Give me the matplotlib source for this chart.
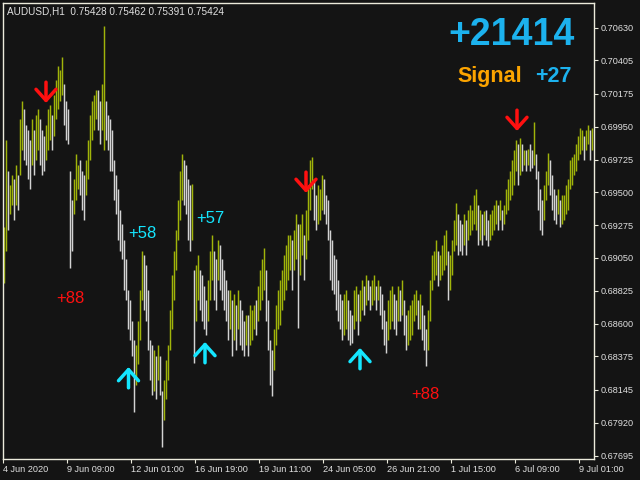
import matplotlib
matplotlib.use("Agg")
import matplotlib.pyplot as plt
import numpy as np

plt.rcParams['font.family'] = ['Liberation Sans', 'DejaVu Sans']

# ---------------- data ----------------
highs = [0.6926, 0.6986, 0.6965, 0.6955, 0.6962, 0.6959, 0.6969, 0.6962, 0.7000, 0.7013,
         0.7007, 0.6996, 0.6993, 0.6986, 0.7000, 0.6993, 0.7003, 0.7007, 0.7000, 0.6993,
         0.6989, 0.6996, 0.7007, 0.7010, 0.7003, 0.7017, 0.7027, 0.7037, 0.7034, 0.7043,
         0.7024, 0.7013, 0.7007, 0.6965, 0.6945, 0.6959, 0.6976, 0.6969, 0.6972, 0.6965,
         0.6962, 0.6972, 0.6986, 0.7003, 0.7013, 0.7017, 0.7020, 0.7020, 0.7013, 0.7024,
         0.7064, 0.7013, 0.7003, 0.7000, 0.6993, 0.6972, 0.6962, 0.6952, 0.6938, 0.6928,
         0.6917, 0.6904, 0.6883, 0.6876, 0.6862, 0.6849, 0.6845, 0.6862, 0.6883, 0.6910,
         0.6907, 0.6900, 0.6883, 0.6849, 0.6845, 0.6842, 0.6838, 0.6845, 0.6838, 0.6814,
         0.6821, 0.6835, 0.6845, 0.6869, 0.6893, 0.6910, 0.6924, 0.6945, 0.6965, 0.6976,
         0.6972, 0.6969, 0.6959, 0.6955, 0.6956, 0.6897, 0.6900, 0.6907, 0.6897, 0.6893,
         0.6886, 0.6876, 0.6890, 0.6910, 0.6921, 0.6910, 0.6904, 0.6917, 0.6914, 0.6904,
         0.6897, 0.6890, 0.6883, 0.6883, 0.6876, 0.6880, 0.6873, 0.6883, 0.6876, 0.6869,
         0.6862, 0.6866, 0.6866, 0.6873, 0.6869, 0.6873, 0.6876, 0.6886, 0.6897, 0.6904,
         0.6912, 0.6897, 0.6876, 0.6849, 0.6842, 0.6856, 0.6873, 0.6883, 0.6890, 0.6897,
         0.6907, 0.6914, 0.6921, 0.6921, 0.6917, 0.6924, 0.6935, 0.6928, 0.6928, 0.6935,
         0.6921, 0.6938, 0.6955, 0.6972, 0.6974, 0.6959, 0.6948, 0.6955, 0.6952, 0.6962,
         0.6959, 0.6948, 0.6945, 0.6924, 0.6917, 0.6907, 0.6904, 0.6890, 0.6880, 0.6876,
         0.6880, 0.6883, 0.6876, 0.6869, 0.6866, 0.6883, 0.6886, 0.6880, 0.6883, 0.6890,
         0.6886, 0.6893, 0.6890, 0.6886, 0.6890, 0.6893, 0.6886, 0.6890, 0.6886, 0.6880,
         0.6869, 0.6862, 0.6876, 0.6883, 0.6886, 0.6880, 0.6876, 0.6886, 0.6883, 0.6890,
         0.6876, 0.6866, 0.6869, 0.6873, 0.6876, 0.6880, 0.6883, 0.6876, 0.6880, 0.6873,
         0.6866, 0.6856, 0.6869, 0.6890, 0.6907, 0.6910, 0.6917, 0.6910, 0.6907, 0.6914,
         0.6921, 0.6924, 0.6910, 0.6907, 0.6917, 0.6931, 0.6943, 0.6935, 0.6931, 0.6928,
         0.6935, 0.6931, 0.6938, 0.6941, 0.6938, 0.6948, 0.6952, 0.6941, 0.6938, 0.6935,
         0.6937, 0.6938, 0.6931, 0.6935, 0.6938, 0.6941, 0.6945, 0.6941, 0.6945, 0.6938,
         0.6941, 0.6952, 0.6959, 0.6965, 0.6972, 0.6979, 0.6986, 0.6983, 0.6987, 0.6983,
         0.6979, 0.6979, 0.6980, 0.6983, 0.6979, 0.6998, 0.6976, 0.6965, 0.6952, 0.6945,
         0.6955, 0.6965, 0.6977, 0.6972, 0.6962, 0.6952, 0.6948, 0.6952, 0.6945, 0.6948,
         0.6948, 0.6955, 0.6959, 0.6972, 0.6974, 0.6976, 0.6983, 0.6989, 0.6994, 0.6993,
         0.6989, 0.6993, 0.6996, 0.6993, 0.6994]
lows = [0.6888, 0.6910, 0.6924, 0.6935, 0.6941, 0.6931, 0.6941, 0.6938, 0.6962, 0.6979,
        0.6972, 0.6969, 0.6959, 0.6952, 0.6969, 0.6962, 0.6972, 0.6979, 0.6969, 0.6962,
        0.6965, 0.6972, 0.6979, 0.6986, 0.6979, 0.6989, 0.7000, 0.7007, 0.7013, 0.7017,
        0.6996, 0.6986, 0.6983, 0.6898, 0.6910, 0.6935, 0.6945, 0.6952, 0.6948, 0.6938,
        0.6931, 0.6948, 0.6959, 0.6972, 0.6986, 0.6993, 0.7000, 0.6993, 0.6983, 0.6993,
        0.6979, 0.6986, 0.6979, 0.6965, 0.6965, 0.6945, 0.6935, 0.6917, 0.6910, 0.6904,
        0.6883, 0.6876, 0.6856, 0.6849, 0.6838, 0.6799, 0.6818, 0.6832, 0.6849, 0.6876,
        0.6869, 0.6862, 0.6842, 0.6821, 0.6811, 0.6814, 0.6808, 0.6821, 0.6811, 0.6775,
        0.6794, 0.6808, 0.6821, 0.6842, 0.6856, 0.6876, 0.6897, 0.6917, 0.6931, 0.6945,
        0.6941, 0.6935, 0.6917, 0.6910, 0.6917, 0.6833, 0.6862, 0.6876, 0.6869, 0.6862,
        0.6856, 0.6852, 0.6862, 0.6876, 0.6890, 0.6876, 0.6869, 0.6890, 0.6883, 0.6876,
        0.6869, 0.6862, 0.6849, 0.6856, 0.6838, 0.6849, 0.6842, 0.6856, 0.6845, 0.6842,
        0.6838, 0.6845, 0.6838, 0.6845, 0.6849, 0.6856, 0.6852, 0.6862, 0.6869, 0.6876,
        0.6883, 0.6862, 0.6842, 0.6818, 0.6810, 0.6828, 0.6845, 0.6856, 0.6859, 0.6869,
        0.6876, 0.6883, 0.6890, 0.6897, 0.6883, 0.6897, 0.6904, 0.6857, 0.6893, 0.6907,
        0.6890, 0.6904, 0.6917, 0.6938, 0.6952, 0.6931, 0.6924, 0.6928, 0.6931, 0.6938,
        0.6935, 0.6928, 0.6917, 0.6890, 0.6883, 0.6880, 0.6869, 0.6862, 0.6856, 0.6849,
        0.6852, 0.6856, 0.6849, 0.6845, 0.6847, 0.6856, 0.6862, 0.6852, 0.6862, 0.6869,
        0.6866, 0.6873, 0.6876, 0.6869, 0.6873, 0.6876, 0.6869, 0.6876, 0.6866, 0.6856,
        0.6845, 0.6840, 0.6849, 0.6856, 0.6862, 0.6856, 0.6852, 0.6862, 0.6862, 0.6866,
        0.6852, 0.6842, 0.6845, 0.6849, 0.6852, 0.6862, 0.6866, 0.6856, 0.6856, 0.6849,
        0.6842, 0.6831, 0.6842, 0.6862, 0.6883, 0.6890, 0.6893, 0.6886, 0.6890, 0.6893,
        0.6897, 0.6900, 0.6876, 0.6883, 0.6893, 0.6910, 0.6914, 0.6907, 0.6910, 0.6907,
        0.6914, 0.6907, 0.6917, 0.6921, 0.6924, 0.6928, 0.6924, 0.6914, 0.6917, 0.6914,
        0.6921, 0.6917, 0.6913, 0.6917, 0.6921, 0.6924, 0.6928, 0.6924, 0.6931, 0.6924,
        0.6928, 0.6935, 0.6938, 0.6945, 0.6948, 0.6955, 0.6965, 0.6955, 0.6962, 0.6965,
        0.6969, 0.6965, 0.6969, 0.6965, 0.6967, 0.6969, 0.6959, 0.6938, 0.6924, 0.6921,
        0.6931, 0.6945, 0.6955, 0.6948, 0.6938, 0.6931, 0.6928, 0.6935, 0.6926, 0.6928,
        0.6931, 0.6935, 0.6938, 0.6952, 0.6955, 0.6962, 0.6965, 0.6972, 0.6976, 0.6979,
        0.6972, 0.6979, 0.6983, 0.6972, 0.6979]

x_tick_labels = ["4 Jun 2020", "9 Jun 09:00", "12 Jun 01:00", "16 Jun 19:00", "19 Jun 11:00",
                 "24 Jun 05:00", "26 Jun 21:00", "1 Jul 15:00", "6 Jul 09:00", "9 Jul 01:00"]
y_tick_values = [0.70630, 0.70405, 0.70175, 0.69950, 0.69725, 0.69500, 0.69275,
                 0.69050, 0.68825, 0.68600, 0.68375, 0.68145, 0.67920, 0.67695]

# signals: bar index, arrow tip price, direction
sig_bar = [21, 62.25, 100.5, 151, 178, 256.5]
sig_price = [0.70113, 0.68302, 0.68474, 0.69496, 0.68433, 0.69921]
sig_dir = ["down", "up", "up", "down", "up", "down"]

# profit labels: bar index, baseline price, text, colour key
lab_bar = [33, 69, 103.25, 210.5]
lab_price = [0.68744, 0.69185, 0.69293, 0.68081]
lab_text = ["+88", "+58", "+57", "+88"]
lab_kind = ["down", "up", "up", "down"]

title_text = "AUDUSD,H1  0.75428 0.75462 0.75391 0.75424"
total_text = "+21414"
signal_text = "Signal"
signal_value = "+27"

# ---------------- style ----------------
BG = "#141414"
UP = "#a0b40a"
DOWN = "#d3d3d3"
FRAME = "#ecebdc"
TXT = "#e0e0e0"
RED = "#ff1010"
CYAN = "#14e6ff"
BLUE = "#1cb2ee"
ORANGE = "#fca400"

highs = np.array(highs)
lows = np.array(lows)
n = len(highs)
xs = np.arange(n)
mids = (highs + lows) / 2
colors = [UP] + [UP if mids[i] >= mids[i - 1] else DOWN for i in range(1, n)]

fig = plt.figure(figsize=(6.4, 4.8), dpi=100, facecolor=BG)
ax = fig.add_axes([3 / 640, 1 - 459 / 480, 591 / 640, 456 / 480])
ax.set_facecolor(BG)

ax.vlines(xs, lows, highs, colors=colors, linewidth=1.05)

ax.set_xlim(-0.5, 295)
ax.set_ylim(0.67671, 0.70799)

for s in ax.spines.values():
    s.set_color(FRAME)
    s.set_linewidth(1.0)

ax.yaxis.tick_right()
ax.set_yticks(y_tick_values)
ax.set_yticklabels([f"{v:.5f}" for v in y_tick_values])
ax.set_xticks([32 * k - 0.5 for k in range(len(x_tick_labels))])
ax.set_xticklabels(x_tick_labels, ha="left")
ax.tick_params(axis="both", colors=FRAME, labelcolor=TXT, labelsize=6.6,
               length=3, width=0.8, direction="out")
ax.tick_params(axis="y", pad=2)
ax.tick_params(axis="x", pad=1.5)

# signals
for b, p, d in zip(sig_bar, sig_price, sig_dir):
    col = RED if d == "down" else CYAN
    off = 15 if d == "down" else -15
    ax.annotate("", xy=(b, p), xytext=(0, off), textcoords="offset points",
                arrowprops=dict(arrowstyle="->,head_length=0.4,head_width=0.36",
                                mutation_scale=20, lw=2.5, color=col,
                                shrinkA=0, shrinkB=0))

for b, p, t, k in zip(lab_bar, lab_price, lab_text, lab_kind):
    ax.text(b, p, t, color=RED if k == "down" else CYAN, fontsize=12,
            ha="center", va="baseline")

ax.text(4 / 591, 1 - 8 / 456, title_text, transform=ax.transAxes, color=TXT,
        fontsize=7.2, ha="left", va="center")
ax.text((575 - 3) / 591, 1 - 42 / 456, total_text, transform=ax.transAxes,
        color=BLUE, fontsize=27, fontweight="bold", ha="right", va="baseline")
ax.text((457 - 3) / 591, 1 - 79 / 456, signal_text, transform=ax.transAxes,
        color=ORANGE, fontsize=15.5, fontweight="bold", ha="left", va="baseline")
ax.text((572 - 3) / 591, 1 - 79 / 456, signal_value, transform=ax.transAxes,
        color=BLUE, fontsize=15.5, fontweight="bold", ha="right", va="baseline")

fig.savefig("out.png", dpi=100, facecolor=BG)
